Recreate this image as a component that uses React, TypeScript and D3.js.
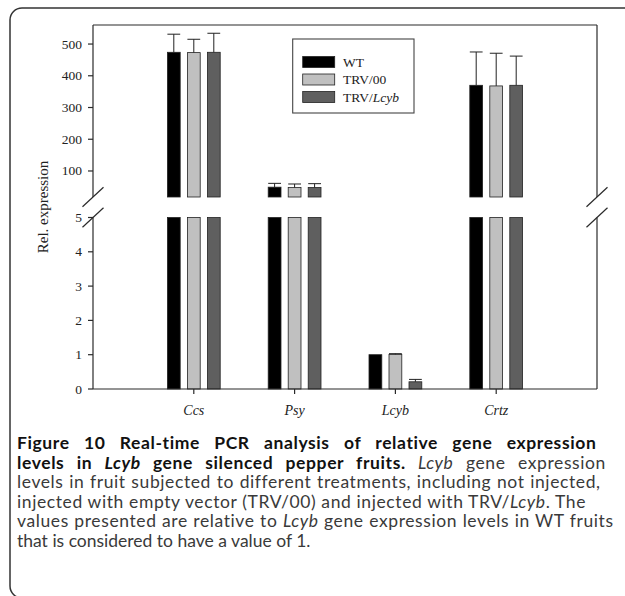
import React, { useRef, useEffect } from 'react';
import * as d3 from 'd3';

const categories = ['Ccs', 'Psy', 'Lcyb', 'Crtz'];
const seriesNames = ['WT', 'TRV/00', 'TRV/Lcyb'];
const seriesColors = ['#000000', '#c0c0c0', '#5f5f5f'];
const wtValues = [474, 49, 1.0, 370];
const wtErrors = [57, 12, 0, 105];
const trv00Values = [473, 48, 1.01, 368];
const trv00Errors = [42, 11, 0.02, 103];
const trvLcybValues = [474, 48, 0.21, 370];
const trvLcybErrors = [60, 12, 0.07, 92];
const upperTicks = [100, 200, 300, 400, 500];
const lowerTicks = [0, 1, 2, 3, 4, 5];

const W = 625;
const H = 596;

const App: React.FC = () => {
  const svgRef = useRef<SVGSVGElement>(null);

  useEffect(() => {
    if (!svgRef.current) return;
    const svg = d3.select(svgRef.current);
    svg.selectAll('*').remove();

    const serif = '"Liberation Serif", "Times New Roman", serif';
    const sans = 'Lato, "Open Sans", sans-serif';
    const axisColor = '#2a2a2a';

    // plot box
    const left = 93, right = 597, top = 25, bottom = 389;
    const breakHi = 197, breakLo = 217.5;

    const x = d3.scaleLinear().domain([0, categories.length + 1]).range([left, right]);
    const yUp = d3.scaleLinear().domain([18, 560]).range([breakHi, top]);
    const yLow = d3.scaleLinear().domain([0, 5]).range([bottom, breakLo]);

    const values = [wtValues, trv00Values, trvLcybValues];
    const errors = [wtErrors, trv00Errors, trvLcybErrors];
    const barW = 12.8;
    const step = 20;

    // outer frame (rounded on the left)
    svg.append('path')
      .attr('d', `M${W},8 H22 A12,12 0 0 0 10,20 V586 A12,12 0 0 0 22,598 H${W}`)
      .attr('fill', 'none')
      .attr('stroke', '#333')
      .attr('stroke-width', 1.5);

    const g = svg.append('g');

    // bars, split at the axis break
    values.forEach((vals, s) => {
      vals.forEach((v, i) => {
        const cx = x(i + 1) + (s - 1) * step;
        const bx = cx - barW / 2;
        const lowTop = v > 5 ? breakLo : yLow(v);
        g.append('rect')
          .attr('x', bx).attr('y', lowTop)
          .attr('width', barW).attr('height', bottom - lowTop)
          .attr('fill', seriesColors[s])
          .attr('stroke', '#222').attr('stroke-width', 0.8);
        let errTop: number;
        let barTop: number;
        if (v > 5) {
          barTop = yUp(v);
          errTop = yUp(v + errors[s][i]);
          g.append('rect')
            .attr('x', bx).attr('y', barTop)
            .attr('width', barW).attr('height', breakHi - barTop)
            .attr('fill', seriesColors[s])
            .attr('stroke', '#222').attr('stroke-width', 0.8);
        } else {
          barTop = yLow(v);
          errTop = yLow(v + errors[s][i]);
        }
        if (errors[s][i] > 0) {
          g.append('line')
            .attr('x1', cx).attr('x2', cx)
            .attr('y1', barTop).attr('y2', errTop)
            .attr('stroke', '#222').attr('stroke-width', 1);
          g.append('line')
            .attr('x1', bx).attr('x2', bx + barW)
            .attr('y1', errTop).attr('y2', errTop)
            .attr('stroke', '#222').attr('stroke-width', 1);
        }
      });
    });

    // axes lines with break marks
    const axes = g.append('g').attr('stroke', axisColor).attr('stroke-width', 1.2).attr('fill', 'none');
    [left, right].forEach(ax => {
      axes.append('line').attr('x1', ax).attr('x2', ax).attr('y1', top).attr('y2', breakHi);
      axes.append('line').attr('x1', ax).attr('x2', ax).attr('y1', breakLo).attr('y2', bottom);
      [breakHi, breakLo].forEach(by => {
        axes.append('line')
          .attr('x1', ax - 10.5).attr('y1', by + 9.8)
          .attr('x2', ax + 10.5).attr('y2', by - 9.8);
      });
    });
    axes.append('line').attr('x1', left).attr('x2', right).attr('y1', top).attr('y2', top);
    axes.append('line').attr('x1', left).attr('x2', right).attr('y1', bottom).attr('y2', bottom);

    // y ticks
    const tickGroup = g.append('g');
    const drawYTick = (y: number, label: string) => {
      tickGroup.append('line')
        .attr('x1', left - 5).attr('x2', left)
        .attr('y1', y).attr('y2', y)
        .attr('stroke', axisColor).attr('stroke-width', 1.2);
      tickGroup.append('text')
        .attr('x', left - 11).attr('y', y + 4.5)
        .attr('text-anchor', 'end')
        .attr('font-family', serif).attr('font-size', 13.5)
        .attr('fill', '#222')
        .text(label);
    };
    upperTicks.forEach(t => drawYTick(yUp(t), String(t)));
    lowerTicks.forEach(t => drawYTick(yLow(t), String(t)));

    // x ticks and category labels
    categories.forEach((c, i) => {
      const cx = x(i + 1);
      tickGroup.append('line')
        .attr('x1', cx).attr('x2', cx)
        .attr('y1', bottom).attr('y2', bottom + 5)
        .attr('stroke', axisColor).attr('stroke-width', 1.2);
      tickGroup.append('text')
        .attr('x', cx).attr('y', bottom + 25.5)
        .attr('text-anchor', 'middle')
        .attr('font-family', serif).attr('font-size', 14)
        .attr('font-style', 'italic')
        .attr('fill', '#222')
        .text(c);
    });

    // y axis title
    g.append('text')
      .attr('transform', 'translate(48,207) rotate(-90)')
      .attr('text-anchor', 'middle')
      .attr('font-family', serif).attr('font-size', 15)
      .attr('fill', '#222')
      .text('Rel. expression');

    // legend
    const lg = g.append('g');
    lg.append('rect')
      .attr('x', 292.7).attr('y', 39)
      .attr('width', 121.3).attr('height', 74)
      .attr('fill', '#fff')
      .attr('stroke', '#444').attr('stroke-width', 1.1);
    seriesNames.forEach((name, s) => {
      const cy = 62 + s * 17.5;
      lg.append('rect')
        .attr('x', 302.7).attr('y', cy - 5.5)
        .attr('width', 32).attr('height', 11)
        .attr('fill', seriesColors[s])
        .attr('stroke', '#222').attr('stroke-width', 0.8);
      const t = lg.append('text')
        .attr('x', 343).attr('y', cy + 4.5)
        .attr('font-family', serif).attr('font-size', 13.5)
        .attr('fill', '#222');
      if (name.includes('/Lcyb')) {
        t.append('tspan').text('TRV/');
        t.append('tspan').attr('font-style', 'italic').text('Lcyb');
      } else {
        t.text(name);
      }
    });

    // caption
    type Seg = { t: string; b?: boolean; i?: boolean };
    const captionLines: Seg[][] = [
      [{ t: 'Figure 10 Real-time PCR analysis of relative gene expression', b: true }],
      [
        { t: 'levels in ', b: true },
        { t: 'Lcyb', b: true, i: true },
        { t: ' gene silenced pepper fruits.', b: true },
        { t: ' Lcyb', i: true },
        { t: ' gene expression' },
      ],
      [{ t: 'levels in fruit subjected to different treatments, including not injected,' }],
      [
        { t: 'injected with empty vector (TRV/00) and injected with TRV/' },
        { t: 'Lcyb', i: true },
        { t: '. The' },
      ],
      [
        { t: 'values presented are relative to ' },
        { t: 'Lcyb', i: true },
        { t: ' gene expression levels in WT fruits' },
      ],
      [{ t: 'that is considered to have a value of 1.' }],
    ];
    const lineEnds = [597, 606, 600, 586, 614, 0];
    const capX = 17;
    captionLines.forEach((segs, li) => {
      const t = svg.append('text')
        .attr('x', capX).attr('y', 449 + li * 19.5)
        .attr('font-family', sans)
        .attr('font-size', 17.5)
        .style('white-space', 'pre');
      segs.forEach(s => {
        t.append('tspan')
          .attr('font-weight', s.b ? 700 : 400)
          .attr('font-style', s.i ? 'italic' : 'normal')
          .attr('fill', s.b ? '#111' : '#3a3a3a')
          .text(s.t);
      });
      const node = t.node() as SVGTextElement;
      if (node && lineEnds[li] > 0) {
        const text = segs.map(s => s.t).join('');
        const extra = lineEnds[li] - capX - node.getComputedTextLength();
        const ls = Math.max(-0.2, Math.min(0.6, extra / text.length));
        const spaces = text.split(' ').length - 1;
        const ws = spaces > 0 ? (extra - ls * text.length) / spaces : 0;
        t.attr('letter-spacing', ls).attr('word-spacing', ws);
      }
    });
  }, []);

  return (
    <svg
      ref={svgRef}
      width={W}
      height={H}
      style={{ position: 'absolute', left: 0, top: 0, background: '#fff' }}
    />
  );
};

export default App;
